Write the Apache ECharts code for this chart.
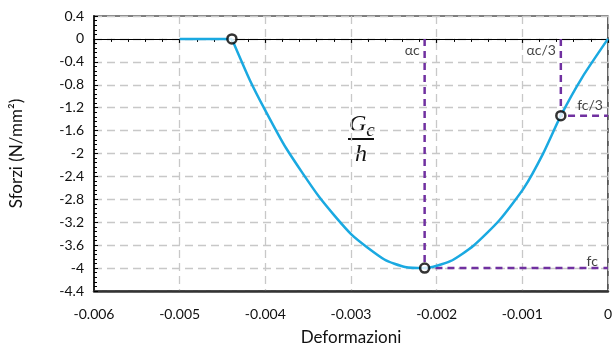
<!DOCTYPE html>
<html>
<head>
<meta charset="utf-8">
<script src="https://cdn.jsdelivr.net/npm/echarts@6/dist/echarts.min.js"></script>
<style>
  html, body { margin: 0; padding: 0; background: #fff; }
  #chart { width: 615px; height: 353px; }
</style>
</head>
<body>
<div id="chart"></div>
<script>
// Data
var flatEps = [-0.005, -0.00439];
var flatSig = [0, 0];

var curveEps = [-0.00439, -0.00418, -0.00401, -0.00376, -0.00337, -0.00299, -0.00261, -0.00237, -0.00214,
                -0.00184, -0.00157, -0.00127, -0.00098, -0.00076, -0.00055, -0.0003, 0];
var curveSig = [0, -0.72, -1.22, -1.90, -2.76, -3.42, -3.85, -3.98, -4.0,
                -3.88, -3.61, -3.17, -2.60, -2.01, -1.34, -0.67, 0];

// key points (circles)
var keyEps = [-0.00439, -0.00214, -0.00055];
var keySig = [0, -4.0, -1.34];

// dashed guide lines
var peakGuideEps = [-0.00214, -0.00214, 0];
var peakGuideSig = [0, -4.0, -4.0];
var thirdGuideEps = [-0.00055, -0.00055, 0];
var thirdGuideSig = [0, -1.34, -1.34];

// annotation labels
var noteTexts = ['αc', 'αc/3', 'fc/3', 'fc'];
var noteEps = [-0.00214, -0.00055, 0, 0];
var noteSig = [-0.2, -0.2, -1.17, -3.88];

function zip(xs, ys) {
  return xs.map(function (x, i) { return [x, ys[i]]; });
}

var chart = echarts.init(document.getElementById('chart'));
var fontFam = 'Lato, "DejaVu Sans", sans-serif';
var cyan = '#1aa9e1';
var purple = '#7030a0';

var option = {
  backgroundColor: '#fff',
  animation: false,
  textStyle: { fontFamily: fontFam },
  grid: {
    left: 92, right: 3, top: 16, bottom: 62,
    show: true, borderColor: '#000', borderWidth: 1.2
  },
  xAxis: [{
    type: 'value',
    min: -0.006, max: 0, interval: 0.001,
    position: 'bottom',
    name: 'Deformazioni',
    nameLocation: 'middle',
    nameGap: 38,
    nameTextStyle: { fontSize: 17, color: '#111', fontFamily: fontFam },
    axisLine: { onZero: false, lineStyle: { color: '#333', width: 2.5 } },
    axisTick: { show: false },
    axisLabel: { fontSize: 14, color: '#111', margin: 16, fontFamily: fontFam },
    splitLine: { show: true, lineStyle: { color: '#c8c8c8', type: [8, 5], width: 1.3 } }
  }, {
    type: 'value',
    min: -0.006, max: 0, interval: 0.001,
    position: 'bottom',
    axisLine: { onZero: true, onZeroAxisIndex: 0, lineStyle: { color: '#000', width: 1.2 } },
    axisTick: { show: true, inside: false, length: 4, lineStyle: { color: '#000', width: 1.2 } },
    minorTick: { show: true, splitNumber: 5, length: 3, lineStyle: { color: '#000', width: 1 } },
    axisLabel: { show: false },
    splitLine: { show: false }
  }],
  yAxis: {
    type: 'value',
    min: -4.4, max: 0.4, interval: 0.4,
    name: 'Sforzi (N/mm²)',
    nameLocation: 'middle',
    nameGap: 69,
    nameTextStyle: { fontSize: 17, color: '#111', fontFamily: fontFam },
    axisLine: { show: true, onZero: false, lineStyle: { color: '#222', width: 2 } },
    axisTick: { show: true, inside: true, length: 4, lineStyle: { color: '#000' } },
    minorTick: { show: true, splitNumber: 5, length: 3, lineStyle: { color: '#000' } },
    axisLabel: { fontSize: 14, color: '#111', margin: 10, fontFamily: fontFam },
    splitLine: { show: true, lineStyle: { color: '#c8c8c8', type: [8, 5], width: 1.3 } }
  },
  graphic: [{
    type: 'group',
    left: 348, top: 113,
    children: [{
      type: 'text',
      x: 4, y: 0,
      style: {
        text: '{g|G}{c|c}',
        rich: {
          g: { font: 'italic 24px "Liberation Serif", "DejaVu Serif", serif', fill: '#111' },
          c: { font: 'italic 19px "Liberation Serif", "DejaVu Serif", serif', fill: '#111', padding: [11, 0, 0, 0] }
        }
      }
    }, {
      type: 'rect',
      shape: { x: 3, y: 28, width: 26, height: 2 },
      style: { fill: '#111' }
    }, {
      type: 'text',
      x: 10, y: 33,
      style: { text: 'h', font: 'italic 24px "Liberation Serif", "DejaVu Serif", serif', fill: '#111' }
    }]
  }],
  series: [{
    type: 'line',
    data: zip(peakGuideEps, peakGuideSig),
    symbol: 'none',
    lineStyle: { color: purple, width: 2.5, type: [7, 5] },
    z: 3
  }, {
    type: 'line',
    data: zip(thirdGuideEps, thirdGuideSig),
    symbol: 'none',
    lineStyle: { color: purple, width: 2.5, type: [7, 5] },
    z: 3
  }, {
    type: 'line',
    data: zip(flatEps, flatSig),
    symbol: 'none',
    lineStyle: { color: cyan, width: 2.5 },
    z: 4
  }, {
    type: 'line',
    data: zip(curveEps, curveSig),
    symbol: 'none',
    smooth: 0.2,
    lineStyle: { color: cyan, width: 2.5 },
    z: 4
  }, {
    type: 'scatter',
    data: zip(keyEps, keySig),
    symbol: 'circle',
    symbolSize: 9,
    itemStyle: { color: '#fff', borderColor: '#000', borderWidth: 2.5 },
    z: 6
  }, {
    type: 'scatter',
    data: noteEps.map(function (x, i) {
      var dist = i === 3 ? 10 : 5;
      return { value: [x, noteSig[i]], label: { formatter: noteTexts[i], position: 'left', distance: dist } };
    }),
    symbolSize: 0,
    label: { show: true, fontSize: 14, color: '#111', fontFamily: fontFam },
    z: 5
  }]
};

chart.setOption(option);

window.addEventListener('resize', function () {
  chart.resize();
});
</script>
</body>
</html>
